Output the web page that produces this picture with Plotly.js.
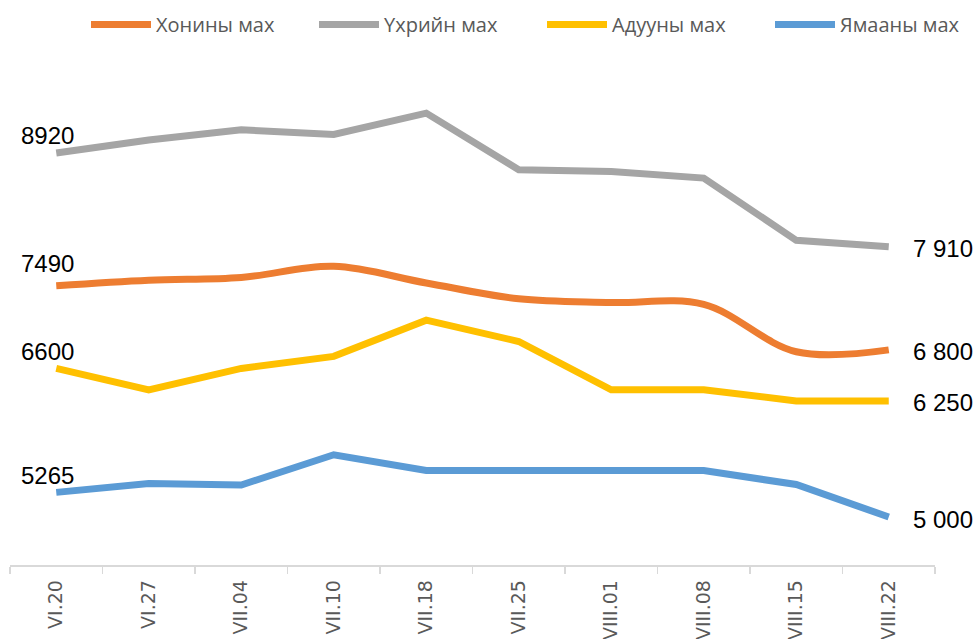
<!DOCTYPE html>
<html>
<head>
<meta charset="utf-8">
<script src="https://cdn.plot.ly/plotly-3.0.1.min.js"></script>
<style>
  html, body { margin: 0; padding: 0; background: #ffffff; }
  #chart { width: 975px; height: 639px; }
</style>
</head>
<body>
<div id="chart"></div>
<script>
// ---- data ----
const categories = ["VI.20", "VI.27", "VII.04", "VII.10", "VII.18", "VII.25", "VIII.01", "VIII.08", "VIII.15", "VIII.22"];
const seriesNames = ["Хонины мах", "Үхрийн мах", "Адууны мах", "Ямааны мах"];
const sheep  = [7490, 7550, 7580, 7700, 7520, 7350, 7310, 7290, 6780, 6800];
const beef   = [8920, 9060, 9170, 9120, 9350, 8740, 8720, 8650, 7980, 7910];
const horse  = [6600, 6370, 6600, 6730, 7120, 6890, 6370, 6370, 6250, 6250];
const goat   = [5265, 5360, 5345, 5670, 5500, 5500, 5500, 5500, 5350, 5000];
const startLabels = ["7490", "8920", "6600", "5265"];
const endLabels   = ["6 800", "7 910", "6 250", "5 000"];

// ---- styles ----
const colors = ["#ED7D31", "#A5A5A5", "#FFC000", "#5B9BD5"];
const shapes = ["spline", "linear", "linear", "linear"];
const startShiftY = [22, 18, 17, 17];
const values = [sheep, beef, horse, goat];

const traces = values.map((v, i) => ({
  type: "scatter",
  mode: "lines",
  name: seriesNames[i],
  x: categories,
  y: v,
  line: { color: colors[i], width: 7, shape: shapes[i], smoothing: 1 },
  hoverinfo: "x+y+name"
}));

const annotations = [];
values.forEach((v, i) => {
  annotations.push({
    x: categories[0], y: v[0], xref: "x", yref: "y",
    text: startLabels[i], showarrow: false,
    xanchor: "center", yanchor: "middle",
    xshift: -9, yshift: startShiftY[i],
    font: { family: "Liberation Sans, Arial, sans-serif", size: 24, color: "#000000" }
  });
  const last = v.length - 1;
  annotations.push({
    x: categories[last], y: v[last], xref: "x", yref: "y",
    text: endLabels[i], showarrow: false,
    xanchor: "left", yanchor: "middle",
    xshift: 22, yshift: -2,
    font: { family: "Liberation Sans, Arial, sans-serif", size: 24, color: "#000000" }
  });
});

const layout = {
  width: 975, height: 639,
  margin: { l: 10, r: 40, t: 60, b: 74, pad: 0, autoexpand: false },
  paper_bgcolor: "#ffffff",
  plot_bgcolor: "#ffffff",
  showlegend: true,
  legend: {
    orientation: "h",
    x: 86 / 975, xanchor: "left", xref: "container",
    y: 1 - 5 / 639, yanchor: "top", yref: "container",
    entrywidth: 153, entrywidthmode: "pixels",
    itemwidth: 60,
    font: { family: "Open Sans, Noto Sans, sans-serif", size: 20, color: "#595959" },
    bgcolor: "rgba(0,0,0,0)"
  },
  xaxis: {
    type: "category",
    range: [-0.5, 9.5],
    tickson: "boundaries",
    ticks: "outside", ticklen: 7, tickcolor: "#d9d9d9", tickwidth: 1.5,
    showline: true, linecolor: "#d9d9d9", linewidth: 1.5,
    showgrid: false, zeroline: false,
    tickangle: -90,
    ticklabelstandoff: 6,
    tickfont: { family: "DejaVu Sans, sans-serif", size: 19, color: "#595959" },
    fixedrange: true
  },
  yaxis: {
    range: [4483, 9922],
    visible: false,
    showgrid: false, zeroline: false,
    fixedrange: true
  },
  annotations: annotations
};

Plotly.newPlot("chart", traces, layout, { displayModeBar: false, staticPlot: true });
</script>
</body>
</html>
